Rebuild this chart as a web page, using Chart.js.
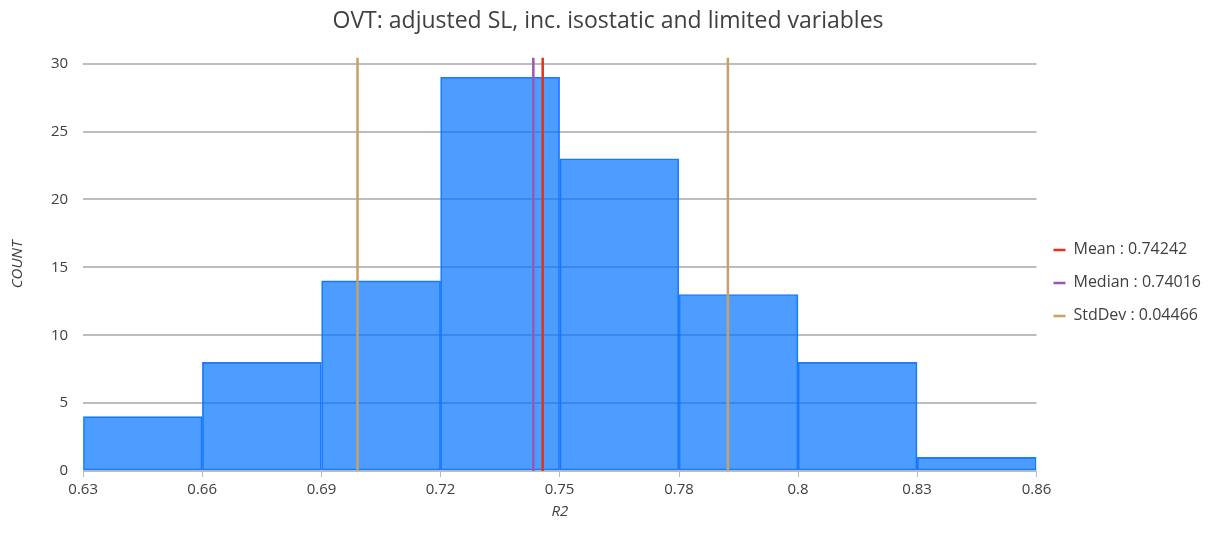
<!DOCTYPE html>
<html>
<head>
<meta charset="utf-8">
<script src="https://cdn.jsdelivr.net/npm/chart.js@4"></script>
<style>
  html, body { margin: 0; padding: 0; background: #fff; }
  #wrap { width: 1215px; height: 535px; }
</style>
</head>
<body>
<div id="wrap"><canvas id="histChart"></canvas></div>
<script>
// Histogram of R2 values
const binEdges = [0.6316, 0.6603, 0.6891, 0.7178, 0.7465, 0.7753, 0.8040, 0.8327, 0.8615];
const binCounts = [4, 8, 14, 29, 23, 13, 8, 1];
const yTicks = [0, 5, 10, 15, 20, 25, 30];
const meanVal = 0.74242;
const medianVal = 0.74016;
const stdVal = 0.04466;

const FONT = '"Open Sans", sans-serif';
const TXT = '#404040';
const yTop = 30.45;

const binCenters = binCounts.map((c, i) => ({ x: (binEdges[i] + binEdges[i + 1]) / 2, y: c }));
const vline = v => [{ x: v, y: 0 }, { x: v, y: yTop }];

new Chart(document.getElementById('histChart'), {
	data: {
		datasets: [{
			type: 'bar',
			label: 'Count',
			data: binCenters,
			backgroundColor: 'rgba(0, 115, 255, 0.7)',
			borderColor: 'rgba(10, 110, 255, 0.9)',
			borderWidth: 1,
			borderSkipped: false,
			barPercentage: 1,
			categoryPercentage: 1,
			order: 2
		}, {
			type: 'line',
			label: 'Mean : ' + meanVal.toFixed(5),
			data: vline(meanVal),
			borderColor: '#e2321c',
			backgroundColor: '#e2321c',
			borderWidth: 2.5,
			pointRadius: 0,
			order: 1
		}, {
			type: 'line',
			label: 'Median : ' + medianVal.toFixed(5),
			data: vline(medianVal),
			borderColor: '#9a55b8',
			backgroundColor: '#9a55b8',
			borderWidth: 2.5,
			pointRadius: 0,
			order: 1
		}, {
			type: 'line',
			label: 'StdDev : ' + stdVal.toFixed(5),
			data: vline(meanVal - stdVal),
			borderColor: '#c9a06a',
			backgroundColor: '#c9a06a',
			borderWidth: 2.5,
			pointRadius: 0,
			order: 1
		}, {
			type: 'line',
			label: 'StdDev+',
			data: vline(meanVal + stdVal),
			borderColor: '#c9a06a',
			borderWidth: 2.5,
			pointRadius: 0,
			order: 1
		}]
	},
	options: {
		responsive: true,
		maintainAspectRatio: false,
		animation: false,
		layout: { padding: { left: 5, right: 4, top: 0, bottom: 10 } },
		plugins: {
			title: {
				display: true,
				text: 'OVT: adjusted SL, inc. isostatic and limited variables',
				color: TXT,
				font: { family: FONT, size: 23, weight: 'normal' },
				padding: { top: 8, bottom: 22 }
			},
			legend: {
				position: 'right',
				title: {
					display: true,
					text: ' ',
					font: { family: FONT, size: 14 },
					padding: { top: 0, bottom: 24 }
				},
				labels: {
					usePointStyle: true,
					pointStyle: 'line',
					pointStyleWidth: 12,
					boxWidth: 12,
					padding: 17,
					color: TXT,
					font: { family: FONT, size: 16 },
					filter: item => item.datasetIndex >= 1 && item.datasetIndex <= 3
				}
			},
			tooltip: { enabled: false }
		},
		scales: {
			x: {
				type: 'linear',
				min: binEdges[0],
				max: binEdges[binEdges.length - 1],
				offset: false,
				afterBuildTicks: axis => { axis.ticks = binEdges.map(v => ({ value: v })); },
				ticks: {
					color: TXT,
					font: { family: FONT, size: 15 },
					callback: v => String(Number(v.toFixed(2))),
					maxRotation: 0,
					autoSkip: false,
					padding: 4
				},
				grid: { offset: false, drawOnChartArea: false, drawTicks: true, tickLength: 6, color: '#bbb' },
				border: { display: false },
				title: {
					display: true,
					text: 'R2',
					color: TXT,
					font: { family: FONT, size: 15, style: 'italic' },
					padding: { top: 0 }
				}
			},
			y: {
				min: 0,
				max: yTop,
				afterBuildTicks: axis => { axis.ticks = yTicks.map(v => ({ value: v })); },
				ticks: {
					color: TXT,
					font: { family: FONT, size: 15 },
					padding: 15
				},
				grid: { drawTicks: false, color: '#bdbdbd', lineWidth: 2 },
				border: { display: false },
				title: {
					display: true,
					text: 'COUNT',
					color: TXT,
					font: { family: FONT, size: 15, style: 'italic' },
					padding: { bottom: 9 }
				}
			}
		}
	}
});
</script>
</body>
</html>
